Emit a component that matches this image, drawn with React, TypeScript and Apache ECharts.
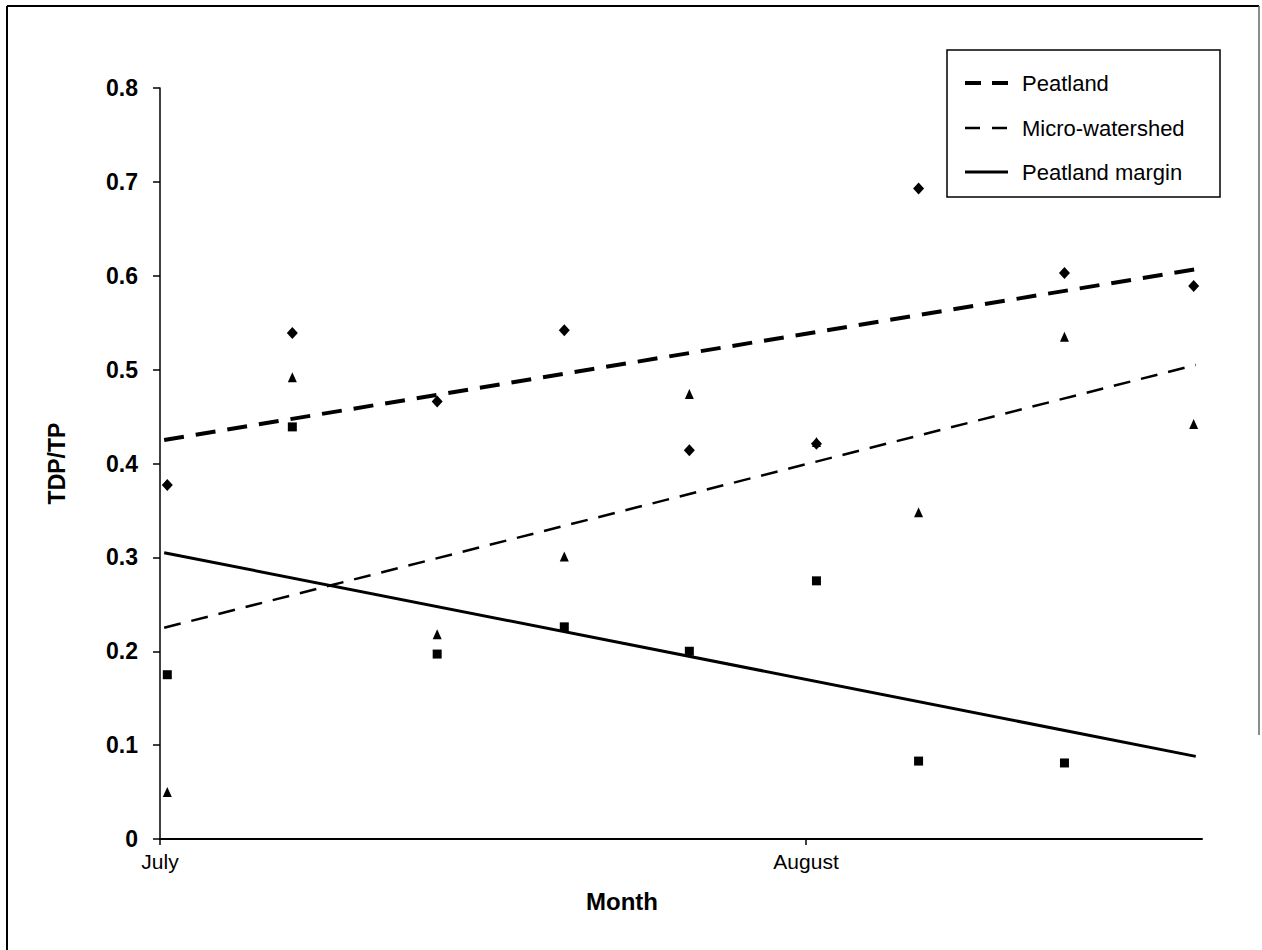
import { useEffect, useRef } from "react";
import * as echarts from "echarts";

// Sampling dates as days after 1 July
const sampleDays = [0.35, 6.35, 13.3, 19.4, 25.4, 31.5, 36.4, 43.4, 49.6];
const peatlandRatio = [0.377, 0.539, 0.466, 0.542, 0.414, 0.421, 0.693, 0.603, 0.589];
const microWatershedRatio = [0.05, 0.492, 0.218, 0.301, 0.474, 0.423, 0.348, 0.535, 0.442];
const peatlandMarginRatio = [0.175, 0.439, 0.197, 0.226, 0.2, 0.275, 0.083, 0.081, null];

// Trend line end points
const trendDays = [0.2, 49.7];
const peatlandTrend = [0.425, 0.607];
const microWatershedTrend = [0.225, 0.505];
const peatlandMarginTrend = [0.305, 0.088];

const monthTicks = [0, 31];
const monthLabels = ["July", "August"];
const seriesNames = ["Peatland", "Micro-watershed", "Peatland margin"];

const FONT = "'Liberation Sans', Arial, sans-serif";

export default function App() {
  const ref = useRef<HTMLDivElement>(null);
  useEffect(() => {
    if (!ref.current) return;
    const chart = echarts.init(ref.current, undefined, { renderer: "svg" });
    const pts = (ys: (number | null)[]) =>
      sampleDays.map((d, i) => [d, ys[i]]).filter((p) => p[1] !== null);
    const trend = (ys: number[]) => trendDays.map((d, i) => [d, ys[i]]);
    const legendRows = [83, 128, 172];
    chart.setOption({
      animation: false,
      backgroundColor: "#fff",
      grid: { left: 160, right: 60, top: 88, bottom: 111, containLabel: false },
      xAxis: {
        type: "value",
        min: 0,
        max: 50,
        name: "Month",
        nameLocation: "middle",
        nameGap: 50,
        nameTextStyle: {
          fontFamily: FONT,
          fontSize: 24,
          fontWeight: "bold",
          color: "#000",
          padding: [0, 118, 0, 0],
        },
        axisLine: { show: true, lineStyle: { color: "#000", width: 2 } },
        axisTick: { show: true, customValues: monthTicks, length: 6, lineStyle: { color: "#000", width: 1.5 } },
        axisLabel: {
          customValues: monthTicks,
          margin: 12,
          fontFamily: FONT,
          fontSize: 21,
          color: "#000",
          formatter: (v: number) => monthLabels[monthTicks.indexOf(v)] ?? "",
        },
        splitLine: { show: false },
      },
      yAxis: {
        type: "value",
        min: 0,
        max: 0.8,
        interval: 0.1,
        name: "TDP/TP",
        nameLocation: "middle",
        nameGap: 92,
        nameTextStyle: { fontFamily: FONT, fontSize: 23, fontWeight: "bold", color: "#000" },
        axisLine: { show: true, lineStyle: { color: "#000", width: 1.5 } },
        axisTick: { show: true, length: 7, lineStyle: { color: "#000", width: 1.5 } },
        axisLabel: {
          margin: 22,
          fontFamily: FONT,
          fontSize: 23,
          fontWeight: "bold",
          color: "#000",
          formatter: (v: number) => (v === 0 ? "0" : v.toFixed(1)),
        },
        splitLine: { show: false },
      },
      series: [
        {
          name: seriesNames[0],
          type: "line",
          data: trend(peatlandTrend),
          symbol: "none",
          lineStyle: { color: "#000", width: 4, type: [20, 12] },
          z: 2,
        },
        {
          name: seriesNames[1],
          type: "line",
          data: trend(microWatershedTrend),
          symbol: "none",
          lineStyle: { color: "#000", width: 2.5, type: [17, 11] },
          z: 2,
        },
        {
          name: seriesNames[2],
          type: "line",
          data: trend(peatlandMarginTrend),
          symbol: "none",
          lineStyle: { color: "#000", width: 3 },
          z: 2,
        },
        {
          name: seriesNames[0] + " data",
          type: "scatter",
          data: pts(peatlandRatio),
          symbol: "diamond",
          symbolSize: [11, 12],
          itemStyle: { color: "#000", opacity: 1 },
          z: 3,
        },
        {
          name: seriesNames[1] + " data",
          type: "scatter",
          data: pts(microWatershedRatio),
          symbol: "triangle",
          symbolSize: [9, 10],
          itemStyle: { color: "#000", opacity: 1 },
          z: 3,
        },
        {
          name: seriesNames[2] + " data",
          type: "scatter",
          data: pts(peatlandMarginRatio),
          symbol: "rect",
          symbolSize: [9, 9],
          itemStyle: { color: "#000", opacity: 1 },
          z: 3,
        },
      ],
      graphic: [
        // outer frame
        { type: "line", shape: { x1: 7, y1: 6, x2: 7, y2: 950 }, style: { stroke: "#000", lineWidth: 2 } },
        { type: "line", shape: { x1: 7, y1: 6, x2: 1259, y2: 6 }, style: { stroke: "#000", lineWidth: 2 } },
        { type: "line", shape: { x1: 1259, y1: 6, x2: 1259, y2: 735 }, style: { stroke: "#666", lineWidth: 1.5 } },
        // legend
        {
          type: "rect",
          shape: { x: 947, y: 50, width: 273, height: 147 },
          style: { fill: "#fff", stroke: "#000", lineWidth: 1.5 },
          z: 10,
        },
        {
          type: "line",
          shape: { x1: 965, y1: legendRows[0], x2: 1008, y2: legendRows[0] },
          style: { stroke: "#000", lineWidth: 4, lineDash: [16, 11] },
          z: 11,
        },
        {
          type: "line",
          shape: { x1: 965, y1: legendRows[1], x2: 1008, y2: legendRows[1] },
          style: { stroke: "#000", lineWidth: 2.5, lineDash: [15, 12] },
          z: 11,
        },
        {
          type: "line",
          shape: { x1: 965, y1: legendRows[2], x2: 1008, y2: legendRows[2] },
          style: { stroke: "#000", lineWidth: 3 },
          z: 11,
        },
        ...seriesNames.map((n, i) => ({
          type: "text",
          x: 1022,
          y: legendRows[i],
          z: 11,
          style: {
            text: n,
            fontFamily: FONT,
            fontSize: 22,
            fill: "#000",
            textVerticalAlign: "middle",
            verticalAlign: "middle",
          },
        })),
      ],
    });
    return () => chart.dispose();
  }, []);
  return (
    <div
      ref={ref}
      style={{ position: "fixed", left: 0, top: 0, width: 1262, height: 950, background: "#fff" }}
    />
  );
}
